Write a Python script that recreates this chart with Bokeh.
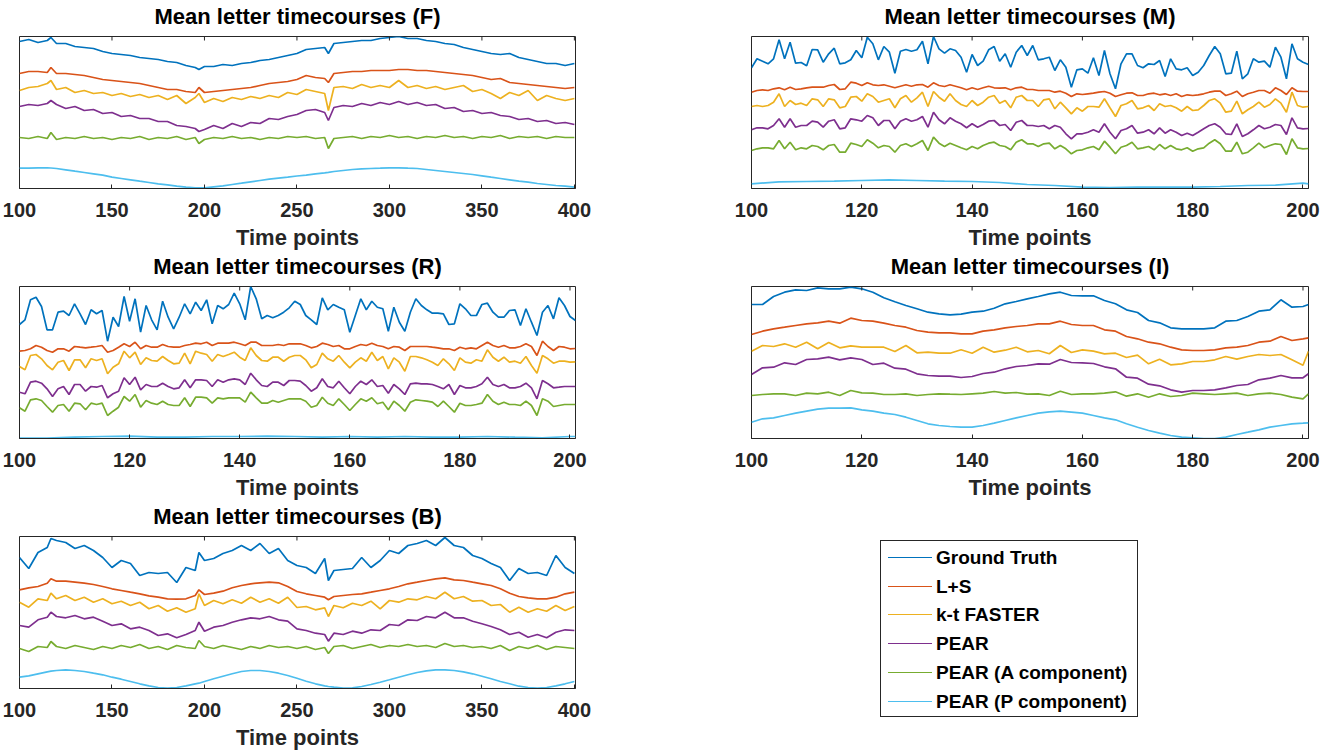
from bokeh.plotting import figure
from bokeh.models import Range1d, FixedTicker, Div
from bokeh.layouts import column, row
from bokeh.embed import file_html
from bokeh.resources import INLINE

FONT = "Liberation Sans"
TXT = "#262626"
NAMES = ["Ground Truth", "L+S", "k-t FASTER", "PEAR", "PEAR (A component)", "PEAR (P component)"]
COLORS = ["#0072BD", "#D95319", "#EDB120", "#7E2F8E", "#77AC30", "#4DBEEE"]

TICKS_LONG = [100, 150, 200, 250, 300, 350, 400]
TICKS_SHORT = [100, 120, 140, 160, 180, 200]
Y_TOP = 152
TICK_LEN = 4

# time points
T_LONG = [100, 105, 110, 115, 117, 120, 125, 130, 135, 140, 145, 150, 155, 160, 165, 170, 175, 180, 185, 190,
          195, 197, 200, 205, 210, 215, 220, 225, 230, 235, 240, 245, 250, 255, 260, 265, 267, 270, 275, 280,
          285, 290, 295, 300, 305, 310, 315, 320, 325, 330, 335, 340, 345, 350, 355, 360, 365, 370, 375, 380,
          385, 390, 395, 400]
T_SHORT = list(range(100, 202))
T_COARSE = [100, 105, 110, 115, 120, 125, 130, 135, 140, 145, 150, 155, 160, 165, 170, 175, 180, 185, 190, 195, 200, 201]
T_I = list(range(100, 201, 2)) + [201]

# ---------------- F ----------------
F_GT = [147, 149, 146, 148, 151, 145, 145, 142, 141, 140, 137, 135, 134, 133, 131, 130, 129, 127, 126, 123,
        121, 119, 122, 122, 124, 123, 125, 126, 128, 129, 131, 133, 135, 139, 140, 141, 135, 145, 146, 147,
        148, 148, 150, 151, 152, 150, 150, 148, 147, 145, 144, 141, 139, 137, 135, 134, 135, 131, 129, 127,
        125, 125, 123, 125]
F_LS = [115, 117, 117, 116, 121, 115, 115, 114, 113, 111, 109, 108, 107, 106, 105, 103, 101, 99, 99, 97,
        96, 101, 96, 97, 98, 99, 100, 101, 103, 105, 106, 107, 109, 113, 111, 110, 106, 115, 116, 117,
        117, 118, 118, 118, 119, 119, 118, 118, 117, 116, 115, 114, 113, 111, 109, 110, 106, 105, 104, 103,
        102, 101, 100, 101]
F_KT = [98, 101, 102, 105, 108, 99, 101, 96, 98, 95, 96, 93, 95, 92, 94, 91, 93, 89, 93, 85,
        91, 95, 86, 90, 87, 91, 89, 92, 90, 93, 91, 96, 94, 99, 97, 95, 78, 101, 102, 100,
        104, 101, 103, 101, 108, 101, 103, 100, 102, 99, 101, 103, 97, 99, 95, 90, 96, 93, 98, 88,
        93, 90, 88, 90]
F_PEAR = [82, 84, 83, 85, 88, 84, 80, 82, 78, 79, 75, 76, 72, 73, 70, 70, 67, 67, 63, 62,
          60, 57, 59, 63, 60, 65, 62, 66, 65, 70, 69, 72, 74, 78, 79, 76, 68, 81, 83, 82,
          85, 83, 86, 84, 87, 84, 86, 83, 84, 80, 81, 77, 78, 75, 76, 73, 72, 69, 70, 67,
          68, 65, 66, 64]
F_A = [51, 50, 52, 50, 56, 49, 51, 50, 52, 50, 51, 49, 51, 50, 52, 49, 51, 50, 52, 49,
       51, 45, 49, 51, 50, 52, 50, 51, 49, 51, 50, 52, 51, 52, 50, 51, 40, 50, 51, 52,
       50, 52, 51, 53, 51, 52, 50, 52, 51, 53, 51, 52, 50, 52, 51, 53, 50, 52, 51, 52,
       50, 52, 51, 51]
F_P = [20.3, 20.3, 20.7, 20.7, 20.5, 20, 18.7, 17.3, 16, 14.7, 13.3, 11.3, 10, 8.7, 7.3, 6, 4.7, 3.7, 2.3, 1.3,
       0.7, 0.6, 0.7, 1.7, 2.7, 4, 5.3, 6.7, 8, 9.3, 10.3, 11.3, 12.5, 13.3, 14.7, 15.7, 16.2, 17, 18, 19,
       19.7, 20, 20.3, 20.7, 20.7, 20.3, 20, 19, 18, 17, 16, 15, 14, 12.7, 11.3, 10, 8.7, 7.3, 6.3, 5,
       4, 3, 2.3, 1.3]

# ---------------- M ----------------
M_GT = [120.7, 129.7, 127.3, 124.7, 129.7, 148.7, 129.7, 146.3, 125.3, 126, 122.7, 139, 138.7, 126.3, 134.7, 140.3,
        124.7, 125.7, 128.7, 138, 130.7, 151.3, 144.7, 128.7, 142, 136.3, 115.3, 137.3, 139, 137.3, 138.7, 147.3,
        124.7, 152, 139.7, 135.3, 139.7, 138, 131.3, 116.3, 134, 123, 127.3, 138.7, 142, 127.3, 134.7, 121.3,
        136.3, 143, 133, 143,
        128.7, 129.7, 131.3, 118, 128.7, 121.3, 101.3, 118.7, 119.7, 115.3, 130.7, 113, 138, 114.7, 99.7, 124.7,
        134.7, 134.7, 123, 120.7, 124.7, 124, 128, 112, 129.7, 119.7, 118.7, 120.7, 113, 116.3, 123, 133, 142,
        134.7, 114.7, 115.3, 137.3, 109.7, 114.7, 129.7, 126.3, 127.3, 121.3, 141.3, 131.3, 109.7, 144.7, 129.7,
        126.3, 124]
M_LS = [96.3, 98, 98.7, 98, 99.7, 100.7, 98.7, 101.3, 99, 99.7, 100.7, 101.3, 101.3, 101.3, 103, 104, 99, 99.7,
        106.3, 105.3, 103, 105.7, 103.7, 103, 103.7, 102.3, 100.7, 102.3, 103.7, 102.3, 103.7, 104, 101.3, 105.7,
        103, 102, 103.7, 102.3, 100.7, 98.7, 100.7, 99, 100.7, 102.3, 100.7, 100.3, 100.7, 98.7, 100.7, 101.3,
        99, 99,
        98, 98, 98, 96.3, 97.3, 95.3, 92, 94.7, 94, 94.7, 95.3, 96.3, 97, 95.3, 92, 93.7, 95.3, 95.7, 93, 93,
        94.7, 95.3, 93.7, 94.7, 93, 94.7, 92, 93.7, 93, 93.7, 94.7, 96.3, 97.3, 97.3, 93, 94.7, 97.3, 92, 94.7,
        96.3, 98, 98, 95.3, 100.7, 98, 94, 100.7, 97.3, 97, 97]
M_KT = [82, 83, 82, 83, 86.3, 94.7, 82, 88, 84, 85.3, 83, 89.7, 88.7, 82, 89.7, 88.7, 80.7, 82, 91.3, 92,
        87.3, 94.7, 92, 86.3, 88, 89.7, 80.7, 89.7, 93, 86.3, 90.7, 96.3, 82, 97, 91.3, 87.3, 94.7, 88, 84, 82,
        88, 83, 86.3, 91.3, 93, 85.3, 88, 80.7, 91.3, 93, 88, 88,
        82, 88.7, 89.7, 79.7, 86.3, 80.7, 74.7, 80.7, 77.3, 82, 82, 81.3, 89.7, 80.7, 72, 83, 84.7, 88, 79.7,
        80.7, 83, 78, 84.7, 82, 83, 80.7, 77.3, 82, 78, 78.7, 83, 88, 89.7, 85.3, 76.3, 77.3, 87.3, 74.7, 78.7,
        82, 86.3, 81.3, 84, 89.7, 85.3, 76.3, 96.3, 83, 81.3, 82]
M_PEAR = [58.7, 60.7, 60.7, 59.7, 63, 69.7, 61.3, 69.7, 61.3, 63, 63, 67.3, 66.3, 61.3, 67.3, 68.7, 59.7, 60.7,
          69.7, 68.7, 67.3, 73, 70.7, 63, 68, 68, 59.7, 67.3, 69.7, 67.3, 68.7, 72, 61.3, 76.3, 68.7, 64.7, 70.7,
          67.3, 64.7, 60.7, 64.7, 61.3, 64, 67.3, 68, 63, 64, 58, 66.3, 68, 63, 63,
          62, 63, 59.7, 63, 61.3, 54.7, 49.7, 54.7, 54.7, 56.3, 58.7, 56.3, 64.7, 56.3, 49.7, 58, 59.7, 63, 55.3,
          56.3, 58.7, 54.7, 60.7, 55.3, 58.7, 56.3, 53, 55.3, 53, 56.3, 59.7, 63, 64.7, 61.3, 54.7, 54, 64.7, 52,
          54.7, 58.7, 63, 59.7, 61.3, 64, 63, 54, 70.7, 60.7, 59.7, 60]
M_A = [38, 39.7, 40.7, 40.7, 39.7, 48, 39.7, 46.3, 38.7, 40.7, 39.7, 43, 42, 38.7, 43, 44, 36.3, 36.3, 45.3, 44,
       42, 48.7, 45.3, 40.7, 43, 42, 36.3, 43, 44.7, 42, 44.7, 48, 38, 51.3, 45.3, 42, 45.3, 43, 40.7, 38.7,
       42, 39.7, 43, 45.3, 46.3, 43, 42, 38.7, 46.3, 48.7, 44.7, 44.7,
       42, 44.7, 45.3, 39.7, 43, 39.7, 34.7, 38, 38.7, 40.7, 42, 38.7, 47.3, 41.3, 34.7, 41.3, 43, 46.3, 39.7,
       40.7, 42, 38.7, 44, 39.7, 43, 39.7, 38.7, 40.7, 37.3, 39.7, 40.7, 45.3, 48.7, 44.7, 37.3, 37.3, 46.3,
       34.7, 36.3, 40.7, 45.3, 40.7, 43, 44.7, 44, 34, 49.7, 40.7, 39.7, 40]
M_P = [4.7, 6.7, 7, 7.3, 8, 8.7, 8, 7.3, 7, 6, 4, 3, 1.3, 1, 1.3, 1.3, 1.3, 2, 3, 3.3, 5.3, 4.7]

# ---------------- R ----------------
R_GT = [114, 118.7, 138.7, 141.3, 132, 108.7, 108.7, 126.3, 127.3, 123, 134.7, 124.7, 114, 128.7, 124.7, 128,
        97.3, 121.3, 112, 142, 117.3, 139.7, 106.3, 133, 118.7, 108.7, 137.3, 121.3, 109.7, 121.3, 134.7, 124.7,
        136.3, 128, 138.7, 114.7, 133, 129.7, 134, 145.3, 134.7, 118.7, 152, 139.7, 119.7, 123, 120.7, 123,
        126.3, 130.7, 137.3, 134,
        123, 118.7, 114, 140.7, 128.7, 134, 131.3, 128.7, 106.3, 123, 139.7, 128.7, 137.3, 131.3, 129.7, 107.3,
        131.3, 116.3, 107.3, 126.3, 139.7, 133, 128.7, 125.3, 125.3, 124.7, 114, 114.7, 134.7, 129.7, 123, 123,
        134, 135.3, 126.3, 121.3, 121.3, 128, 128.7, 113, 129.7, 116.3, 103, 126.3, 133, 119.7, 140.7, 133,
        122, 118]
R_LS = [87.3, 88, 89.7, 93, 91.3, 88, 86.3, 89.7, 89.7, 87.3, 92, 91.3, 90.7, 91.3, 92, 93, 86.3, 88, 91.3,
        94.7, 92, 96.3, 89.7, 93, 91.3, 91.3, 94, 92, 91.3, 91.3, 93, 94, 95.3, 94.7, 96.3, 93, 95.3, 95.3, 95.3,
        96.3, 94.7, 93, 96.3, 96.3, 93, 93, 93, 94, 93, 94.7, 94.7, 94.7,
        93, 90.7, 92, 95.3, 94, 92, 93, 89.7, 89.7, 92, 94, 93, 95.3, 93, 92, 89.7, 92, 91.3, 88, 92, 92, 92, 92,
        91.3, 90.7, 89.7, 89.7, 88, 91.3, 89.7, 90.7, 89.7, 93, 96.3, 93, 91.3, 93, 90.7, 90.7, 92, 94.7, 92, 83,
        97.3, 92, 88, 92, 91.3, 89.7, 90]
R_KT = [72, 68.7, 83, 84, 79.7, 73, 68.7, 76.3, 78, 68, 78.7, 78.7, 70.7, 79.7, 78, 79.7, 64.7, 71.3, 74.7,
        87.3, 80.7, 86.3, 74, 80.7, 78, 77.3, 82, 78, 74.7, 75.3, 85.3, 74.7, 87.3, 85.3, 84, 77.3, 84, 82, 84,
        86.3, 81.3, 78, 90.7, 83, 78, 77.3, 81.3, 81.3, 77.3, 81.3, 83, 83,
        78.7, 70.7, 74, 85.3, 79.7, 77.3, 83, 76.3, 70.7, 76.3, 80.7, 77.3, 86.3, 78, 82, 69.7, 80.7, 76.3, 67.3,
        82, 82, 80.7, 78.7, 76.3, 73, 79.7, 74.7, 68, 80.7, 76.3, 75.3, 78.7, 77.3, 88.7, 81.3, 77.3, 81.3, 76.3,
        77.3, 75.3, 82, 73, 65.3, 83, 79.7, 75.3, 77.3, 77.3, 76.3, 76.7]
R_PEAR = [46.3, 44.7, 56.3, 57.3, 55.3, 49.7, 42, 49.7, 52, 44, 54, 54, 47.3, 52, 51.3, 53, 40.7, 44.7, 47.3,
          60.7, 54, 61.3, 48.7, 54, 52, 52, 55.3, 52, 49.7, 50.7, 58.7, 50.7, 58.7, 58.7, 58, 52, 58.7, 56.3,
          58.7, 59.7, 58.7, 54, 65.3, 58.7, 53, 52, 56.3, 56.3, 53, 58, 58, 57.3,
          53, 47.3, 50.7, 59.7, 52, 50.7, 57.3, 50.7, 44.7, 52, 57.3, 54, 58.7, 52, 53, 45.3, 54, 49.7, 44, 54.7,
          55.3, 54.7, 54.7, 54, 52, 49.7, 54, 44, 53, 50.7, 50.7, 52, 54.7, 61.3, 54, 52, 54, 50.7, 50.7, 52,
          55.3, 50.7, 39.7, 58, 54.7, 50.7, 51.3, 52, 52, 52]
R_A = [30.7, 27.3, 38.7, 39.7, 38, 32, 26.3, 33, 34, 27.3, 35.3, 34.7, 28.7, 35.3, 34, 35.3, 23, 27.3, 31.3, 42,
       37.3, 44, 31.3, 38, 35.3, 34, 37.3, 34, 33, 33, 40.7, 32, 41.3, 41.3, 40.7, 35.3, 40.7, 39.7, 40.7, 40.7,
       40.7, 36.3, 46.3, 40.7, 35.3, 35.3, 38, 36.3, 38, 39.7, 39.7, 39.7,
       37.3, 31.3, 33, 41.3, 35.3, 33, 39.7, 34, 28, 34, 39.7, 37.3, 40.7, 34.7, 36.3, 28.7, 37.3, 33, 27.3, 36.3,
       38.7, 38, 37.3, 36.3, 32, 37.3, 32, 26.3, 35.3, 33, 33, 34, 35.3, 44, 37.3, 34, 36.3, 34, 34, 33,
       37.3, 33, 23, 39.7, 37.3, 32, 33, 34, 34, 34]
R_P = [0.3, 0.3, 1.3, 2, 2.3, 1.3, 1.3, 2, 2, 2.3, 2, 1.3, 2, 1.3, 2, 1.3, 1.3, 2, 1.3, 0.7, 2, 2]

# ---------------- I ----------------
I_GT = [134, 134, 142, 146.3, 148.7, 148, 150.7, 149.7, 149.7, 151.3, 149.7, 146.3, 140.7, 136.7, 133, 129.7,
        126.3, 124.7, 123.7, 124.3, 126.3, 127.3, 130.3, 134.7, 137, 139.7, 142, 144.7, 146.3, 143, 142.7, 142.7,
        138, 134.7, 128.7, 126, 118, 115.7, 110.7, 109.7, 109.7, 109.7, 110.7, 117.3, 118, 122, 127.3, 128.7,
        138.7, 131.3, 132, 134]
I_LS = [104, 107.3, 109.7, 111.3, 113, 114.7, 115.7, 117.3, 115.3, 120.3, 118, 117.3, 115.3, 113, 111.3, 108,
        106.3, 105.7, 105.7, 104.7, 104.7, 107.3, 108.7, 110.7, 112, 113, 114.7, 114.7, 117.3, 114, 113, 113,
        108.7, 107.3, 102, 99.7, 96.3, 94.7, 91.3, 88.7, 88, 88, 88.7, 90.7, 91.3, 93, 96.3, 97.3, 102, 98,
        99.7, 100.7]
I_KT = [87.3, 93, 92, 94.7, 91.3, 96.3, 89.7, 96, 90.7, 92.7, 91.3, 91.3, 91.3, 87, 93, 85.7, 86.3, 85.3, 85.3,
        88.7, 85.3, 91.3, 86.3, 88.3, 91.3, 86.7, 88, 84.7, 93, 86, 88.7, 87.3, 84.7, 85.3, 81, 83.3, 74.7, 79.3,
        73.7, 74.7, 77, 77, 78.7, 82, 79.3, 82, 84, 83, 84, 78.7, 73.3, 87.3]
I_PEAR = [64, 70.7, 71.3, 75.7, 74, 79, 79.7, 81.3, 78.7, 80.7, 79, 74, 75.3, 70.3, 69.3, 64.7, 63, 62.3, 62.3,
          61, 62, 65, 66.3, 69.7, 72, 73, 74.7, 74.3, 79, 76, 75.7, 75, 71.7, 69.7, 61.3, 60.3, 54.3, 52.7, 48.7,
          46.3, 48, 48, 48.7, 50.7, 53, 54, 58.7, 60.3, 63, 60.7, 60.7, 64.7]
I_A = [43, 44, 44.7, 44.7, 43, 45.3, 44.7, 46.3, 43, 48, 45.7, 45.3, 44, 44, 44.7, 43, 44, 44.7, 44.3, 44,
       44.7, 45.3, 47, 45.3, 46, 44.3, 44.7, 43, 47.3, 44, 44.7, 44.7, 45.3, 46.7, 42.3, 44.7, 41.3, 44.7, 42, 43,
       45.3, 44.7, 44, 44.7, 45.3, 43, 44.7, 45.3, 44, 41.3, 39.7, 44.7]
I_P = [16.3, 19.7, 20.7, 23, 25.3, 27.3, 29.3, 30.3, 30.3, 30.7, 28.7, 27.3, 25.3, 24, 21.3, 18, 14.7, 13, 12,
       11.3, 11.3, 13, 15.3, 18, 20.7, 23, 25.3, 26.7, 27.3, 26.3, 25.3, 23, 20.7, 18.7, 14.7, 11.3, 8, 5.3, 3,
       1.3, 0.7, 0, 0, 1.3, 4, 6.3, 8.7, 11.3, 13, 14.7, 15.3, 15.7]

# ---------------- B ----------------
B_GT = [131, 120, 136, 141, 150, 148, 146, 140, 143, 138, 131, 121, 128, 125, 113, 116, 115, 116, 106, 121,
        118, 136, 128, 130, 135, 138, 143, 138, 145, 135, 140, 128, 123, 121, 115, 130, 108, 118, 119, 120,
        131, 121, 128, 138, 135, 143, 145, 148, 143, 151, 143, 141, 133, 130, 125, 121, 108, 120, 115, 116,
        113, 133, 121, 115]
B_LS = [98.7, 100.7, 102, 105.3, 109.7, 107.3, 107.3, 106.3, 105.3, 104, 102, 99.7, 98, 96.3, 94.7, 92.7, 91.3,
        89.7, 89.3, 89.7, 93, 98.7, 94, 95.3, 97.3, 100.7, 103, 104.7, 105.7, 106.3, 105.7, 102, 97, 94.7, 93,
        91.3, 88.7, 92, 93, 94, 94.7, 96.3, 98, 99.7, 102, 104.7, 106.3, 108, 109.7, 110.7, 108.7, 108, 106.3,
        104.7, 103, 99.7, 95.3, 92, 90.7, 89.7, 89.7, 91.3, 94.7, 96.3]
B_KT = [86.3, 81.3, 89.7, 88, 95.3, 89.7, 93, 88, 91.3, 86.3, 89.7, 84.7, 87.3, 83, 86.3, 79.7, 83, 77.3, 80.7,
        76.3, 79.7, 94.7, 83, 88, 84.7, 88.7, 85.3, 91.3, 86.3, 89.7, 85.3, 91.3, 81, 82, 78.7, 80.7, 72, 83,
        80.7, 85.3, 83, 87.3, 79.7, 88, 86.3, 89.7, 88.7, 92, 89.7, 96.3, 89.7, 92, 87.3, 88, 83, 84, 76.3,
        81.3, 76.3, 79.7, 77.3, 83, 78, 82]
B_PEAR = [63, 61.3, 68.7, 71.3, 76.3, 72, 70.7, 73, 69.7, 71.3, 67.3, 63, 64.7, 59.7, 61.3, 58, 53, 54.7, 50.7,
          54, 58, 66.3, 57.3, 61.3, 63, 66.3, 68.7, 70.7, 69.7, 72, 68.7, 67.3, 59.7, 58, 55.3, 54, 47.3, 55.3,
          54, 57.3, 55.3, 58.7, 58, 64, 63, 68.7, 68, 72, 70.7, 76.3, 70.7, 70.7, 67.3, 64.7, 62, 58.7, 54,
          56.3, 51.3, 54, 50.7, 56.3, 58.7, 58]
B_A = [40, 37, 42, 41, 47, 42, 40, 43, 41, 39, 42, 40, 43, 41, 44, 40, 42, 39, 43, 41,
       40, 48, 42, 40, 43, 41, 39, 42, 40, 43, 41, 42, 40, 42, 39, 41, 35, 42, 43, 40,
       42, 44, 41, 43, 42, 44, 42, 43, 41, 45, 42, 43, 41, 42, 40, 43, 38, 42, 40, 43,
       39, 42, 41, 40]
B_P = [11.3, 12.7, 14.7, 16.7, 17.3, 18, 18.7, 18, 17, 15.3, 13.7, 11.3, 9.3, 7, 4.7, 2.7, 1, 0.3, 1, 2.7,
       4.7, 5.3, 7, 9.7, 12.3, 14.7, 17, 18, 18, 17, 15.3, 13, 10.2, 7.3, 4.7, 2.7, 2, 1.3, 0.3, 0.7,
       2, 4, 6.3, 8.7, 11.3, 13.7, 16, 17.7, 18.7, 18.7, 18, 16.7, 14.7, 12.3, 9.7, 7, 4.7, 2.3, 1, 0.3,
       1, 2.7, 4.7, 7]

TOP_B = 46      # top margin of each figure (room for the title)


def make_panel(title, times, series, x_end, ticks, fig_w, fig_h, left, right, top, bottom):
    p = figure(width=fig_w, height=fig_h, x_range=Range1d(100, x_end), y_range=Range1d(0, Y_TOP),
               output_backend="svg", toolbar_location=None,
               min_border_left=left, min_border_right=right, min_border_top=top, min_border_bottom=bottom)
    p.background_fill_color = "white"
    p.border_fill_alpha = 0          # transparent margins so that stacked rows may overlap
    p.outline_line_color = TXT
    p.outline_line_width = 1
    p.outline_line_alpha = 1
    p.xgrid.visible = False
    p.ygrid.visible = False
    p.yaxis.visible = False
    for t, y, c in zip(times, series, COLORS):
        p.line(t, y, line_color=c, line_width=1.7)
    # inward ticks along the top edge of the box
    p.segment(x0=ticks, x1=ticks, y0=[Y_TOP] * len(ticks), y1=[Y_TOP - TICK_LEN] * len(ticks),
              line_color=TXT, line_width=1)
    ax = p.xaxis[0]
    ax.ticker = FixedTicker(ticks=ticks)
    ax.major_tick_in = TICK_LEN
    ax.major_tick_out = 0
    ax.minor_tick_line_color = None
    ax.axis_line_color = TXT
    ax.major_tick_line_color = TXT
    ax.major_label_text_font = FONT
    ax.major_label_text_font_style = "bold"
    ax.major_label_text_font_size = "20px"
    ax.major_label_text_color = TXT
    ax.major_label_standoff = 14
    ax.axis_label = "Time points"
    ax.axis_label_text_font = FONT
    ax.axis_label_text_font_style = "bold"
    ax.axis_label_text_font_size = "22px"
    ax.axis_label_text_color = TXT
    ax.axis_label_standoff = 5
    p.title.text = title
    p.title.align = "center"
    p.title.text_font = FONT
    p.title.text_font_style = "bold"
    p.title.text_font_size = "22px"
    p.title.text_color = "#000000"
    p.title.standoff = 16
    return p


H12 = TOP_B + 152 + 70
H3 = TOP_B + 152 + 68
pF = make_panel("Mean letter timecourses (F)", [T_LONG] * 6, [F_GT, F_LS, F_KT, F_PEAR, F_A, F_P],
                400.6, TICKS_LONG, 663, H12, 19, 88, TOP_B, 70)
pM = make_panel("Mean letter timecourses (M)", [T_SHORT] * 5 + [T_COARSE], [M_GT, M_LS, M_KT, M_PEAR, M_A, M_P],
                201, TICKS_SHORT, 677, H12, 88, 32, TOP_B, 70)
pR = make_panel("Mean letter timecourses (R)", [T_SHORT] * 5 + [T_COARSE], [R_GT, R_LS, R_KT, R_PEAR, R_A, R_P],
                201, TICKS_SHORT, 663, H12, 19, 88, TOP_B, 70)
pI = make_panel("Mean letter timecourses (I)", [T_I] * 6, [I_GT, I_LS, I_KT, I_PEAR, I_A, I_P],
                201, TICKS_SHORT, 677, H12, 88, 32, TOP_B, 70)
pB = make_panel("Mean letter timecourses (B)", [T_LONG] * 6, [B_GT, B_LS, B_KT, B_PEAR, B_A, B_P],
                400.6, TICKS_LONG, 663, H3, 19, 88, TOP_B, 68)

# legend as an HTML box (real text), placed in the empty lower-right cell
leg_rows = "".join(
    '<div style="display:flex;align-items:center;height:28.8px;">'
    f'<span style="display:inline-block;width:44px;height:0;border-top:1.5px solid {c};margin-right:4px;"></span>'
    f'<span>{n}</span></div>'
    for n, c in zip(NAMES, COLORS))
leg_top = 540 - (536 - TOP_B)
leg_html = (f'<div style="position:relative;width:677px;height:{H3}px;">'
            f'<div style="position:absolute;left:217px;top:{leg_top}px;width:258px;height:177px;box-sizing:border-box;'
            f'border:1px solid {TXT};background:#ffffff;padding:2px 0 0 7px;'
            "font-family:'Liberation Sans';font-weight:bold;font-size:19px;color:#000000;line-height:1;\">"
            + leg_rows + '</div></div>')
pL = Div(text=leg_html, width=677, height=H3, margin=0)

# frames sit at y = 36, 286, 536 on the page; rows overlap where only empty margin is
row1 = row(pF, pM, styles={"margin-top": f"{36 - TOP_B}px"})
row2 = row(pR, pI, styles={"margin-top": f"{(286 - TOP_B) - (36 - TOP_B + H12)}px"})
row3 = row(pB, pL, styles={"margin-top": f"{(536 - TOP_B) - (286 - TOP_B + H12)}px"})
layout = column(row1, row2, row3)
open("out.html", "w").write(file_html(layout, INLINE))
